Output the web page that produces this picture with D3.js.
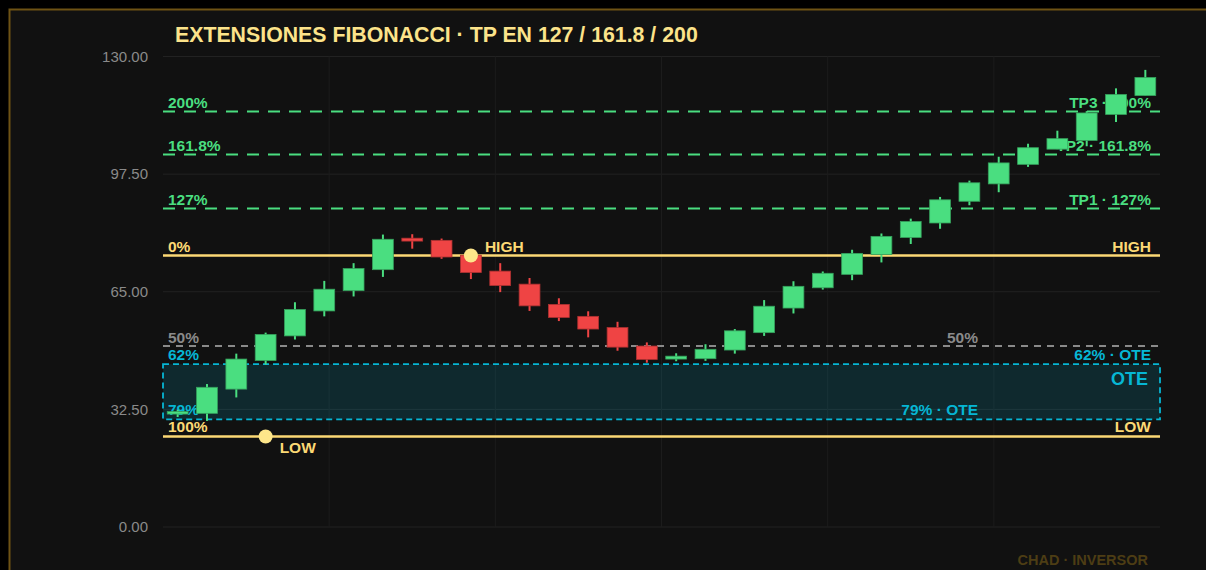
<!DOCTYPE html>
<html>
<head>
<meta charset="utf-8">
<script src="https://cdn.jsdelivr.net/npm/d3@7"></script>
<style>
  html, body { margin: 0; padding: 0; background: #000; }
  svg { display: block; font-family: "Liberation Sans", Arial, sans-serif; }
</style>
</head>
<body>
<div id="chart"></div>
<script>
// --- Data ---
const opens  = [31.5, 31.4, 38.1, 46.0, 52.8, 59.7, 65.3, 71.1, 79.8, 79.2, 75.1, 70.7, 67.1, 61.5, 58.2, 55.1, 50.0,
                46.4, 46.5, 48.9, 53.7, 60.5, 66.1, 69.8, 75.3, 80.0, 84.0, 90.0, 94.8, 100.2, 104.4, 106.8, 114.0, 119.2];
const highs  = [32.4, 39.5, 47.9, 53.7, 62.1, 68.0, 72.9, 80.8, 80.9, 79.7, 75.6, 72.9, 68.8, 63.2, 59.6, 56.7, 51.0,
                48.0, 50.5, 54.7, 62.7, 67.9, 70.6, 76.6, 81.1, 85.2, 91.2, 95.7, 102.3, 105.9, 109.5, 114.9, 121.2, 126.3];
const lows   = [30.4, 29.3, 35.8, 44.9, 51.8, 58.2, 63.7, 69.1, 76.9, 74.1, 68.5, 64.9, 59.7, 56.9, 52.4, 48.7, 45.4,
                45.8, 45.9, 47.9, 52.8, 59.0, 65.6, 68.2, 73.1, 78.2, 82.4, 88.9, 92.5, 99.5, 104.4, 105.2, 111.9, 119.2];
const closes = [31.9, 38.6, 46.4, 53.2, 60.1, 65.7, 71.4, 79.5, 79.0, 74.6, 70.3, 66.7, 61.1, 57.9, 54.7, 49.7, 46.3,
                47.2, 49.1, 54.2, 61.0, 66.5, 70.1, 75.6, 80.3, 84.4, 90.4, 95.1, 100.6, 104.8, 107.3, 114.4, 119.5, 124.2];

const yTicks = [0, 32.5, 65, 97.5, 130];

const swingHigh = 75, swingLow = 25;
const highIndex = 10, lowIndex = 3;
const mid50 = 50;
const ote62 = 45, ote79 = 29.75;
const extLevels = [88, 102.9, 114.8];
const extLeft  = ["127%", "161.8%", "200%"];
const extRight = ["TP1 · 127%", "TP2 · 161.8%", "TP3 · 200%"];

const candles = opens.map((o, i) => ({ i, o, h: highs[i], l: lows[i], c: closes[i] }));

// --- Layout ---
const W = 1206, H = 570;
const plotL = 163, plotR = 1160, plotT = 56.5, plotB = 527;

const GREEN = "#4ade80", RED = "#ef4444", GOLD = "#fcd975", CYAN = "#06b6d4", GREY = "#8a8a8a";

const svg = d3.select("#chart").append("svg")
  .attr("width", W).attr("height", H);

// panel
svg.append("rect").attr("x", 0).attr("y", 0).attr("width", W).attr("height", H).attr("fill", "#000");
svg.append("rect")
  .attr("x", 9.5).attr("y", 9.5).attr("width", W + 20).attr("height", H + 20)
  .attr("fill", "#111").attr("stroke", "#6e5314").attr("stroke-width", 2);

// --- Scales ---
const x = d3.scaleBand().domain(candles.map(d => d.i)).range([plotL, plotR]).padding(0);
const y = d3.scaleLinear().domain([0, 130]).range([plotB, plotT]);
const xGrid = d3.scaleLinear().domain([0, 6]).range([plotL, plotR]);
const cx = i => x(i) + x.bandwidth() / 2;

// --- Grid ---
svg.append("g").selectAll("line").data(yTicks).join("line")
  .attr("x1", plotL).attr("x2", plotR)
  .attr("y1", d => y(d)).attr("y2", d => y(d))
  .attr("stroke", "#222").attr("stroke-width", 1);

svg.append("g").selectAll("line").data(d3.range(1, 6)).join("line")
  .attr("x1", d => xGrid(d)).attr("x2", d => xGrid(d))
  .attr("y1", plotT).attr("y2", plotB)
  .attr("stroke", "#1c1c1c").attr("stroke-width", 1);

// --- Y axis ---
const yAxis = svg.append("g")
  .attr("transform", `translate(${plotL - 15},0)`)
  .call(d3.axisLeft(y).tickValues(yTicks).tickFormat(d3.format(".2f")).tickSize(0).tickPadding(0));
yAxis.select(".domain").remove();
yAxis.selectAll("text").attr("fill", GREY).attr("font-size", 15)
  .attr("font-family", "'Liberation Sans', Arial, sans-serif");

// --- OTE zone ---
svg.append("rect")
  .attr("x", plotL).attr("y", y(ote62))
  .attr("width", plotR - plotL).attr("height", y(ote79) - y(ote62))
  .attr("fill", CYAN).attr("fill-opacity", 0.15)
  .attr("stroke", CYAN).attr("stroke-width", 1.8).attr("stroke-dasharray", "6,4");

// --- Level lines ---
const lines = svg.append("g");
lines.selectAll(".ext").data(extLevels).join("line")
  .attr("x1", plotL).attr("x2", plotR)
  .attr("y1", d => y(d)).attr("y2", d => y(d))
  .attr("stroke", GREEN).attr("stroke-width", 2).attr("stroke-dasharray", "12,9");

lines.append("line")
  .attr("x1", plotL).attr("x2", plotR).attr("y1", y(mid50)).attr("y2", y(mid50))
  .attr("stroke", "#8a8a8a").attr("stroke-width", 2).attr("stroke-dasharray", "7,6");

[swingHigh, swingLow].forEach(v => {
  lines.append("line")
    .attr("x1", plotL).attr("x2", plotR).attr("y1", y(v)).attr("y2", y(v))
    .attr("stroke", GOLD).attr("stroke-width", 2.5);
});

// --- Level labels ---
const labels = svg.append("g").attr("font-weight", "bold").attr("font-size", 15.5);

function label(txt, xPos, v, color, anchor, dy) {
  labels.append("text")
    .attr("x", xPos).attr("y", y(v) - (dy == null ? 4 : dy))
    .attr("text-anchor", anchor).attr("fill", color).text(txt);
}

extLevels.forEach((v, k) => {
  label(extLeft[k], plotL + 5, v, GREEN, "start");
  label(extRight[k], plotR - 9, v, GREEN, "end");
});
label("0%", plotL + 5, swingHigh, GOLD, "start");
label("HIGH", plotR - 9, swingHigh, GOLD, "end");
label("50%", plotL + 5, mid50, GREY, "start", 3.5);
label("50%", 978, mid50, GREY, "end", 3);
label("62%", plotL + 5, ote62, CYAN, "start", 4.5);
label("62% · OTE", plotR - 9, ote62, CYAN, "end");
label("79%", plotL + 5, ote79, CYAN, "start");
label("79% · OTE", 978, ote79, CYAN, "end");
label("100%", plotL + 5, swingLow, GOLD, "start", 5);
label("LOW", plotR - 9, swingLow, GOLD, "end", 5);

labels.append("text")
  .attr("x", plotR - 12).attr("y", y(ote62) + 21)
  .attr("text-anchor", "end").attr("fill", CYAN).attr("font-size", 18).text("OTE");

// --- Candles ---
const bodyW = x.bandwidth() * 0.71;
const cg = svg.append("g").selectAll("g").data(candles).join("g");
const col = d => d.c >= d.o ? GREEN : RED;

cg.append("line")
  .attr("x1", d => cx(d.i)).attr("x2", d => cx(d.i))
  .attr("y1", d => y(d.h)).attr("y2", d => y(d.l))
  .attr("stroke", col).attr("stroke-width", 2);

cg.append("rect")
  .attr("x", d => cx(d.i) - bodyW / 2)
  .attr("y", d => y(Math.max(d.o, d.c)))
  .attr("width", bodyW)
  .attr("height", d => Math.max(2.5, Math.abs(y(d.o) - y(d.c))))
  .attr("fill", col)
  .attr("stroke", d => d3.color(col(d)).darker(0.9))
  .attr("stroke-width", 0.8);

// --- Swing markers ---
const marks = [
  { i: highIndex, v: swingHigh, txt: "HIGH", dy: -4 },
  { i: lowIndex, v: swingLow, txt: "LOW", dy: 16 }
];
const mg = svg.append("g");
mg.selectAll("circle").data(marks).join("circle")
  .attr("cx", d => cx(d.i)).attr("cy", d => y(d.v)).attr("r", 7)
  .attr("fill", "#fde68a");
mg.selectAll("text").data(marks).join("text")
  .attr("x", d => cx(d.i) + 14).attr("y", d => y(d.v) + d.dy)
  .attr("fill", GOLD).attr("font-weight", "bold").attr("font-size", 15.5)
  .text(d => d.txt);

// --- Title & watermark ---
svg.append("text")
  .attr("x", 175).attr("y", 42)
  .attr("fill", "#fce38a").attr("font-weight", "bold").attr("font-size", 21.3)
  .text("EXTENSIONES FIBONACCI · TP EN 127 / 161.8 / 200");

svg.append("text")
  .attr("x", 1148).attr("y", 565)
  .attr("text-anchor", "end").attr("fill", "#4d3d14")
  .attr("font-weight", "bold").attr("font-size", 14.5)
  .text("CHAD · INVERSOR");
</script>
</body>
</html>
